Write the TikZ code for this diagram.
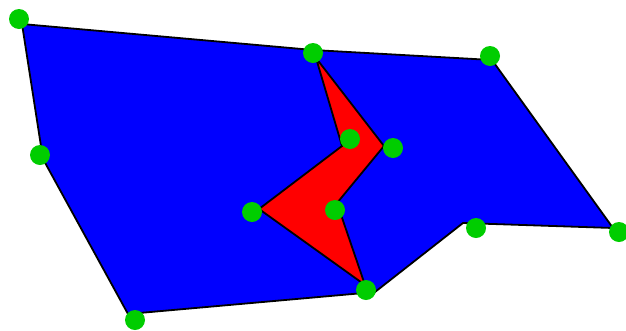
\documentclass[tikz,border=0pt]{standalone}
\begin{document}
\begin{tikzpicture}[x=1pt,y=-1pt,
  dot/.style={circle,inner sep=0pt,minimum size=20pt},
  poly/.style={draw=black,line width=1.8pt,line join=miter}]
\useasboundingbox (0,0) rectangle (626,330);
\definecolor{gdot}{RGB}{0,205,0}
% blue polygon corners
\coordinate (a) at (22,24);
\coordinate (b) at (313,50);
\coordinate (c) at (492,60);
\coordinate (d) at (613,228);
\coordinate (e) at (463,223);
\coordinate (f) at (375,292);
\coordinate (g) at (128,314);
\coordinate (h) at (43,159);
\filldraw[poly,fill={rgb,255:red,0;green,0;blue,255}] (a) -- (b) -- (c) -- (d) -- (e) -- (f) -- (g) -- (h) -- cycle;
% red polygon
\coordinate (r1) at (316,58);
\coordinate (r2) at (384,146);
\coordinate (r3) at (337,203);
\coordinate (r4) at (365,285);
\coordinate (r5) at (259,209);
\coordinate (r6) at (342,146);
\filldraw[poly,fill={rgb,255:red,255;green,0;blue,0}] (r1) -- (r2) -- (r3) -- (r4) -- (r5) -- (r6) -- cycle;
% dots
\foreach \n/\p in {d1/{(19,19)},d2/{(313,53)},d3/{(490,56)},d4/{(40,155)},d5/{(350,139)},d6/{(393,148)},d7/{(252,212)},d8/{(335,210)},d9/{(476,228)},d10/{(619,232)},d11/{(366,290)},d12/{(135,320)}}
  \node[dot,fill=gdot] (\n) at \p {};
\end{tikzpicture}
\end{document}
